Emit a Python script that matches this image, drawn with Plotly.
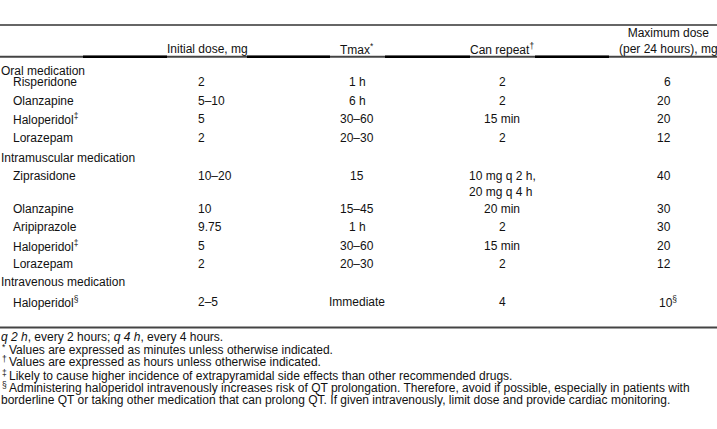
import plotly.graph_objects as go

# ---------------- data ----------------
headers = ["Initial dose, mg", "Tmax<sup>*</sup>", "Can repeat<sup>†</sup>",
           "Maximum dose<br>(per 24 hours), mg"]

sections = ["Oral medication", "Intramuscular medication", "Intravenous medication"]

drugs = [
    ["Risperidone", "Olanzapine", "Haloperidol<sup>‡</sup>", "Lorazepam"],
    ["Ziprasidone", "Olanzapine", "Aripiprazole", "Haloperidol<sup>‡</sup>", "Lorazepam"],
    ["Haloperidol<sup>§</sup>"],
]
initial_dose = [
    ["2", "5–10", "5", "2"],
    ["10–20", "10", "9.75", "5", "2"],
    ["2–5"],
]
tmax = [
    ["1 h", "6 h", "30–60", "20–30"],
    ["15", "15–45", "1 h", "30–60", "20–30"],
    ["Immediate"],
]
can_repeat = [
    ["2", "2", "15 min", "2"],
    ["10 mg q 2 h,<br>20 mg q 4 h", "20 min", "2", "15 min", "2"],
    ["4"],
]
max_dose = [
    ["6", "20", "20", "12"],
    ["40", "30", "30", "20", "12"],
    ["10<sup>§</sup>"],
]

footnote_marks = ["", "*", "†", "‡", "§", ""]
footnotes = [
    "<i>q 2 h</i>, every 2 hours; <i>q 4 h</i>, every 4 hours.",
    "Values are expressed as minutes unless otherwise indicated.",
    "Values are expressed as hours unless otherwise indicated.",
    "Likely to cause higher incidence of extrapyramidal side effects than other recommended drugs.",
    "Administering haloperidol intravenously increases risk of QT prolongation. Therefore, avoid if possible, especially in patients with",
    "borderline QT or taking other medication that can prolong QT. If given intravenously, limit dose and provide cardiac monitoring.",
]

# ---------------- layout (pixel positions) ----------------
W, H = 717, 429
FONT = "Liberation Sans, Arial, sans-serif"
FS = 12
TXT = "#111111"

section_y = [70.5, 157.5, 282]
row_y = [
    [82, 101, 119, 138],
    [176, 209, 227, 246, 264],
    [302],
]
footnote_y = [337, 350, 362, 376, 388, 400]

x_section = 0
x_drug = 12
x_init = 197
x_tmax = 357
x_rep = 502
x_max_right = 672
x_max_header = 668

ann = []


def add(text, x, y, xanchor="left", align="left", yanchor="middle", size=FS):
    ann.append(dict(text=text, x=x, y=y, xref="x", yref="y", showarrow=False,
                    xanchor=xanchor, yanchor=yanchor, align=align,
                    font=dict(family=FONT, size=size, color=TXT), borderpad=0))


# headers
add(headers[0], 207, 48.5, xanchor="center", align="center")
add(headers[1], x_tmax, 48.5, xanchor="center", align="center")
add(headers[2], x_rep, 48.5, xanchor="center", align="center")
add(headers[3], x_max_header, 41, xanchor="center", align="center")

for s, sec in enumerate(sections):
    add(sec, x_section, section_y[s])
    for r, drug in enumerate(drugs[s]):
        y = row_y[s][r]
        add(drug, x_drug, y)
        add(initial_dose[s][r], x_init, y)
        add(tmax[s][r], x_tmax, y, xanchor="center", align="center")
        rep = can_repeat[s][r]
        if "<br>" in rep:
            add(rep, x_rep, y + 7.75, xanchor="center", align="left")
        else:
            add(rep, x_rep, y, xanchor="center", align="center")
        md = max_dose[s][r]
        if "<sup>" in md:
            add(md, 658, y, xanchor="left")
        else:
            add(md, x_max_right, y, xanchor="right", align="right")

for i, fn in enumerate(footnotes):
    mark = footnote_marks[i]
    if mark:
        add(mark, 0.5, footnote_y[i] - 3, size=8.5)
        add(fn, 7.5, footnote_y[i])
    else:
        add(fn, 0, footnote_y[i])

shapes = [
    dict(type="line", x0=0, x1=W, y0=25, y1=25, line=dict(color="#333333", width=1.4)),
    dict(type="line", x0=0, x1=W, y0=56.7, y1=56.7, line=dict(color="#444444", width=2)),
    dict(type="line", x0=0, x1=W, y0=327.5, y1=327.5, line=dict(color="#444444", width=2.2)),
]
for a, b in [(83, 167), (247, 330), (385, 470), (535, 609)]:
    shapes.append(dict(type="line", x0=a, x1=b, y0=56.7, y1=56.7,
                       line=dict(color="#000000", width=2.4)))

fig = go.Figure()
fig.update_layout(
    width=W, height=H,
    margin=dict(l=0, r=0, t=0, b=0),
    paper_bgcolor="white", plot_bgcolor="white",
    xaxis=dict(range=[0, W], visible=False, fixedrange=True),
    yaxis=dict(range=[H, 0], visible=False, fixedrange=True),
    annotations=ann, shapes=shapes, showlegend=False,
)
fig.write_html("out.html", config={"displayModeBar": False},
               post_script="document.body.style.margin='0';document.body.style.overflow='hidden';")
